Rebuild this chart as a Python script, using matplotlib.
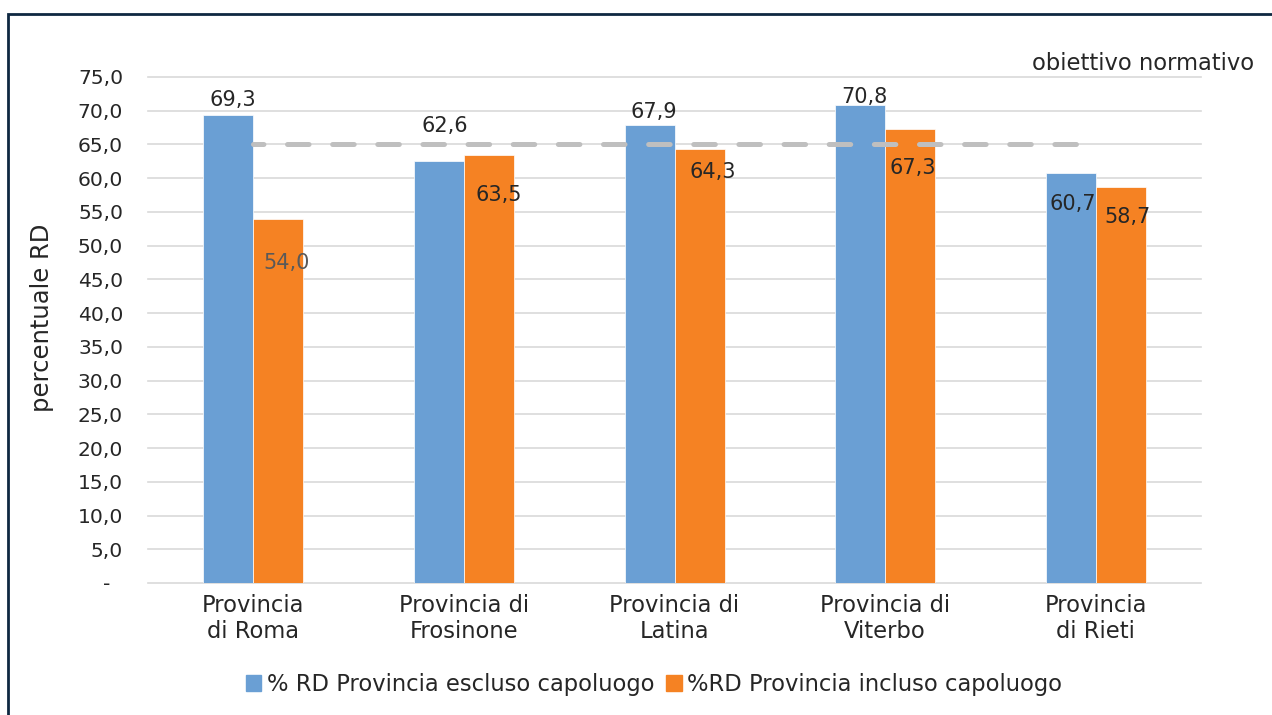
import matplotlib.pyplot as plt
import matplotlib.patches as mpatches
import numpy as np

plt.rcParams['font.family'] = ['DejaVu Sans']
plt.rcParams['lines.scale_dashes'] = False

# data
categories = ['Provincia\ndi Roma', 'Provincia di\nFrosinone', 'Provincia di\nLatina',
              'Provincia di\nViterbo', 'Provincia\ndi Rieti']
escluso = [69.3, 62.6, 67.9, 70.8, 60.7]
incluso = [54.0, 63.5, 64.3, 67.3, 58.7]
obiettivo = [65, 65, 65, 65, 65]
yticks = np.arange(0, 80, 5)
ytick_labels = ['-  '] + [('%.1f' % v).replace('.', ',') for v in yticks[1:]]

# where Excel put the data labels (offset from bar top, in px)
lab_off_esc = [(5, 15), (6, 35), (4, 13), (4, 8), (2, -31)]
lab_off_inc = [(8, -44), (10, -40), (13, -23), (3, -39), (7, -30)]

BLUE = '#6A9FD4'
ORANGE = '#F58223'
GREY = '#BFBFBF'
TXT = '#262626'

W, H = 1272, 715
fig = plt.figure(figsize=(W / 100, H / 100), dpi=100)
ax = fig.add_axes([148 / W, 1 - 583 / H, (1201 - 148) / W, (583 - 77) / H])

x = np.arange(len(categories))
bw = 50 / 210.6
ax.bar(x - bw / 2, escluso, bw, color=BLUE, edgecolor='white', linewidth=0.5, zorder=2,
       label='% RD Provincia escluso capoluogo')
ax.bar(x + bw / 2, incluso, bw, color=ORANGE, edgecolor='white', linewidth=0.5, zorder=2,
       label='%RD Provincia incluso capoluogo')
ax.plot(x, obiettivo, color=GREY, lw=3.6, linestyle=(8, (15.5, 17)),
        dash_capstyle='round', zorder=3)

for i in range(len(x)):
    ax.annotate(('%.1f' % escluso[i]).replace('.', ','), (x[i] - bw / 2, escluso[i]),
                xytext=lab_off_esc[i], textcoords='offset pixels',
                ha='center', va='center', fontsize=15, color=TXT, zorder=4)
    c = '#595959' if i == 0 else TXT
    ax.annotate(('%.1f' % incluso[i]).replace('.', ','), (x[i] + bw / 2, incluso[i]),
                xytext=lab_off_inc[i], textcoords='offset pixels',
                ha='center', va='center', fontsize=15, color=c, zorder=4)

ax.set_xlim(-0.5, len(x) - 0.5)
ax.set_ylim(0, 75)
ax.set_yticks(yticks)
ax.set_yticklabels(ytick_labels, fontsize=14.6, color=TXT)
ax.set_xticks(x)
ax.set_xticklabels(categories, fontsize=16.3, color=TXT, linespacing=1.15)
ax.tick_params(axis='both', length=0)
ax.tick_params(axis='y', pad=18)
ax.tick_params(axis='x', pad=8)
ax.grid(axis='y', color='#D9D9D9', lw=1.2, zorder=0)
for g in ax.get_ygridlines():
    g.set_clip_on(False)
ax.set_axisbelow(True)
for s in ax.spines.values():
    s.set_visible(False)

fig.text(42 / W, 1 - 318 / H, 'percentuale RD', rotation=90, ha='center', va='center',
         fontsize=17.5, color=TXT)
fig.text(1254 / W, 1 - 63 / H, 'obiettivo normativo', ha='right', va='center',
         fontsize=16.3, color=TXT)

h1 = mpatches.Patch(color=BLUE)
h2 = mpatches.Patch(color=ORANGE)
fig.legend([h1, h2], ['% RD Provincia escluso capoluogo', '%RD Provincia incluso capoluogo'],
           loc='center', bbox_to_anchor=(654 / W, 1 - 684 / H), ncol=2, frameon=False,
           fontsize=16.3, handlelength=0.7, handleheight=0.7, handletextpad=0.25,
           columnspacing=0.5, labelcolor=TXT)

# outer frame
fig.patches.append(mpatches.Rectangle((8 / W, -0.1), 1.2, 1 - 14 / H + 0.1, transform=fig.transFigure,
                                      fill=False, edgecolor='#0E2841', lw=2))

fig.savefig('out.png', dpi=100)
